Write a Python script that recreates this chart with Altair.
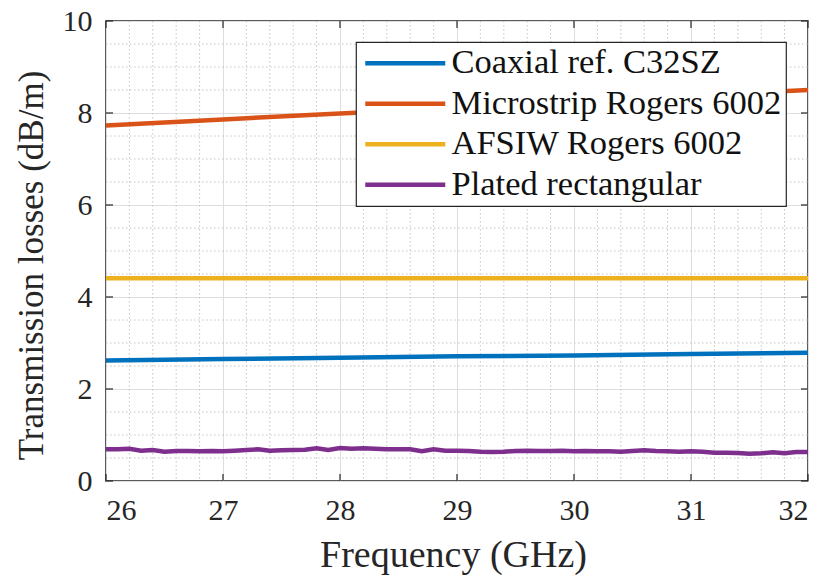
import altair as alt
import pandas as pd

# ---------------- data ----------------
series_names = ["Coaxial ref. C32SZ", "Microstrip Rogers 6002", "AFSIW Rogers 6002", "Plated rectangular"]
series_colors = ["#0072BD", "#D95319", "#EDB120", "#7E2F8E"]

freq_major = [26, 27, 28, 29, 30, 31, 32]
coax_loss = [2.62, 2.65, 2.68, 2.71, 2.73, 2.76, 2.79]
micro_loss = [7.73, 7.86, 7.99, 8.11, 8.24, 8.37, 8.50]
afsiw_loss = [4.41, 4.41, 4.41, 4.41, 4.41, 4.41, 4.41]

plated_freq = [26.0, 26.1, 26.2, 26.3, 26.4, 26.5, 26.6, 26.7, 26.8, 26.9,
               27.0, 27.1, 27.2, 27.3, 27.4, 27.5, 27.6, 27.7, 27.8, 27.9,
               28.0, 28.1, 28.2, 28.3, 28.4, 28.5, 28.6, 28.7, 28.8, 28.9,
               29.0, 29.1, 29.2, 29.3, 29.4, 29.5, 29.6, 29.7, 29.8, 29.9,
               30.0, 30.1, 30.2, 30.3, 30.4, 30.5, 30.6, 30.7, 30.8, 30.9,
               31.0, 31.1, 31.2, 31.3, 31.4, 31.5, 31.6, 31.7, 31.8, 31.9, 32.0]
plated_loss = [0.688, 0.688, 0.700, 0.660, 0.674, 0.638, 0.652, 0.652, 0.645, 0.652,
               0.645, 0.659, 0.674, 0.688, 0.659, 0.667, 0.674, 0.681, 0.710, 0.674,
               0.717, 0.703, 0.710, 0.703, 0.688, 0.688, 0.688, 0.645, 0.688, 0.659,
               0.659, 0.652, 0.638, 0.630, 0.638, 0.652, 0.659, 0.652, 0.652, 0.659,
               0.645, 0.652, 0.645, 0.645, 0.638, 0.652, 0.667, 0.652, 0.645, 0.638,
               0.645, 0.638, 0.616, 0.616, 0.609, 0.594, 0.601, 0.623, 0.601, 0.630, 0.630]

x_ticks = [26, 27, 28, 29, 30, 31, 32]
y_ticks = [0, 2, 4, 6, 8, 10]
x_minor = [26.2, 26.4, 26.6, 26.8, 27.2, 27.4, 27.6, 27.8, 28.2, 28.4, 28.6, 28.8,
           29.2, 29.4, 29.6, 29.8, 30.2, 30.4, 30.6, 30.8, 31.2, 31.4, 31.6, 31.8]
y_minor = [0.5, 1, 1.5, 2.5, 3, 3.5, 4.5, 5, 5.5, 6.5, 7, 7.5, 8.5, 9, 9.5]

# ---------------- tables ----------------
rows = []
for f, v in zip(freq_major, coax_loss):
    rows.append({"freq": f, "loss": v, "series": series_names[0]})
for f, v in zip(freq_major, micro_loss):
    rows.append({"freq": f, "loss": v, "series": series_names[1]})
for f, v in zip(freq_major, afsiw_loss):
    rows.append({"freq": f, "loss": v, "series": series_names[2]})
for f, v in zip(plated_freq, plated_loss):
    rows.append({"freq": f, "loss": v, "series": series_names[3]})
df = pd.DataFrame(rows)

W, H = 702, 460
FONT = "Liberation Serif"
TXT = "#262626"

xscale = alt.Scale(domain=[26, 32], nice=False, zero=False)
yscale = alt.Scale(domain=[0, 10], nice=False, zero=False)

xminor_df = pd.DataFrame({"freq": x_minor})
yminor_df = pd.DataFrame({"loss": y_minor})
xt_df = pd.DataFrame({"freq": x_ticks})
yt_df = pd.DataFrame({"loss": y_ticks})

grid_style = dict(color="#c4c4c4", strokeWidth=1, strokeDash=[1.5, 2.5])

minor_x = alt.Chart(xminor_df).mark_rule(**grid_style).encode(
    x=alt.X("freq:Q", scale=xscale), y=alt.value(0), y2=alt.value(H))
minor_y = alt.Chart(yminor_df).mark_rule(**grid_style).encode(
    y=alt.Y("loss:Q", scale=yscale), x=alt.value(0), x2=alt.value(W))

lines = alt.Chart(df).mark_line(strokeWidth=4.5, strokeCap="butt").encode(
    x=alt.X("freq:Q", scale=xscale,
            axis=alt.Axis(values=x_ticks, title="Frequency (GHz)", format="d",
                          labelFont=FONT, titleFont=FONT,
                          titleX=347, titleY=85, titleBaseline="alphabetic",
                          labelBaseline="alphabetic", labelPadding=38)),
    y=alt.Y("loss:Q", scale=yscale,
            axis=alt.Axis(values=y_ticks, title="Transmission losses (dB/m)", format="d",
                          labelFont=FONT, titleFont=FONT, titleFontSize=35,
                          titleX=-64, titleY=244, titleAngle=270,
                          titleBaseline="alphabetic", labelPadding=14)),
    color=alt.Color("series:N",
                    scale=alt.Scale(domain=series_names, range=series_colors),
                    sort=series_names,
                    legend=alt.Legend(title=None, orient="none", legendX=250, legendY=21,
                                      symbolType="M-1.2,0H6.8", symbolSize=400,
                                      symbolStrokeWidth=4.5, labelOffset=57,
                                      labelFont=FONT, labelFontSize=34.5, labelColor="#111111",
                                      labelLimit=500, rowPadding=5.5, padding=4,
                                      strokeColor="#262626", fillColor="white")),
    detail="series:N",
)

tick_style = dict(color=TXT, strokeWidth=1.2)
t_bottom = alt.Chart(xt_df).mark_rule(**tick_style).encode(
    x=alt.X("freq:Q", scale=xscale), y=alt.value(H), y2=alt.value(H - 7))
t_top = alt.Chart(xt_df).mark_rule(**tick_style).encode(
    x=alt.X("freq:Q", scale=xscale), y=alt.value(0), y2=alt.value(7))
t_left = alt.Chart(yt_df).mark_rule(**tick_style).encode(
    y=alt.Y("loss:Q", scale=yscale), x=alt.value(0), x2=alt.value(7))
t_right = alt.Chart(yt_df).mark_rule(**tick_style).encode(
    y=alt.Y("loss:Q", scale=yscale), x=alt.value(W), x2=alt.value(W - 7))

chart = alt.layer(minor_x, minor_y, lines, t_bottom, t_top, t_left, t_right).properties(
    width=W, height=H,
    autosize=alt.AutoSizeParams(type="none"),
    padding={"left": 98, "top": 13, "right": 10, "bottom": 100},
).configure(
    font=FONT
).configure_view(
    stroke="#262626", strokeWidth=1.5
).configure_axis(
    grid=True, gridColor="#dedede", gridWidth=1,
    domain=False, ticks=False,
    labelFont=FONT, labelFontSize=30, labelColor=TXT,
    titleFont=FONT, titleFontSize=38, titleColor=TXT, titleFontWeight="normal",
).configure_legend(
    strokeWidth=1.2, labelFont=FONT
)

chart.save("out.html", embed_options={"renderer": "svg", "actions": False})
